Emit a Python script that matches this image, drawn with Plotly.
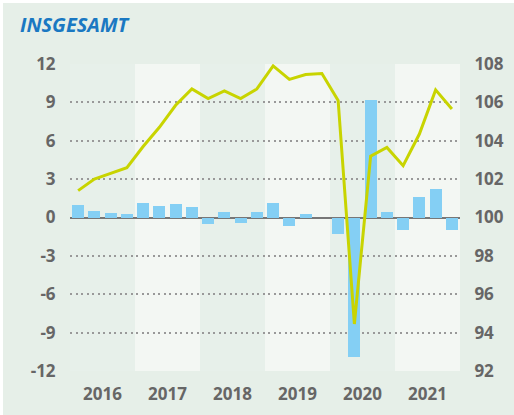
import plotly.graph_objects as go

quarters = [f"{y} Q{q}" for y in range(2016, 2022) for q in range(1, 5)]
years = ["2016", "2017", "2018", "2019", "2020", "2021"]
bar_values = [1.0, 0.5, 0.35, 0.25, 1.1, 0.9, 1.05, 0.8,
              -0.5, 0.4, -0.4, 0.4, 1.1, -0.65, 0.25, 0.0,
              -1.3, -10.9, 9.2, 0.4, -1.0, 1.6, 2.2, -1.0]
index_values = [101.4, 102.0, 102.3, 102.6, 103.7, 104.7, 105.85, 106.7,
                106.2, 106.6, 106.2, 106.7, 107.9, 107.2, 107.45, 107.5,
                106.1, 94.45, 103.2, 103.65, 102.7, 104.35, 106.65, 105.65]
left_ticks = [-12, -9, -6, -3, 0, 3, 6, 9, 12]
left_labels = ["-12", "-9", "-6", "-3", "0", "3", "6", "9", "12"]
right_ticks = [92, 94, 96, 98, 100, 102, 104, 106, 108]

W, H = 514, 415
ML, MR, MT, MB = 70, 54, 64, 44
x = list(range(len(quarters)))

fig = go.Figure()
fig.add_trace(go.Bar(x=x, y=bar_values, marker_color="#84cff4", marker_line_width=0,
                     width=0.74, yaxis="y", hovertext=quarters))
fig.add_trace(go.Scatter(x=x, y=index_values, mode="lines", yaxis="y2",
                         line=dict(color="#c8d400", width=3), hovertext=quarters))

shapes = []
def px_x(p):
    return (p - ML) / (W - ML - MR)
def px_y(p):
    return (H - MB - p) / (H - MT - MB)
shapes.append(dict(type="rect", xref="paper", yref="paper", x0=px_x(3), x1=px_x(W + 5),
                   y0=px_y(H + 5), y1=px_y(3), fillcolor="#e6efe8", line_width=0, layer="below"))
for i, yr in enumerate(years):
    col = "#e7f0ea" if i % 2 == 0 else "#f3f7f3"
    shapes.append(dict(type="rect", xref="x", yref="paper", x0=i * 4 - 0.5, x1=i * 4 + 3.5,
                       y0=0, y1=1, fillcolor=col, line_width=0, layer="below"))

tickfont = dict(family="Open Sans", size=17, color="#666666", weight="bold")
fig.update_layout(
    width=W, height=H, margin=dict(l=ML, r=MR, t=MT, b=MB, autoexpand=False),
    paper_bgcolor="#ffffff", plot_bgcolor="rgba(0,0,0,0)",
    showlegend=False, bargap=0, shapes=shapes,
    xaxis=dict(range=[-0.5, 23.5], tickvals=[1.5 + 4 * i for i in range(6)], ticktext=years,
               showgrid=False, zeroline=False, ticks="outside", ticklen=8,
               tickcolor="rgba(0,0,0,0)", tickfont=tickfont, fixedrange=True),
    yaxis=dict(range=[-12, 12], tickvals=left_ticks, ticktext=left_labels, showgrid=True,
               gridcolor="#999999", gridwidth=1.5, griddash="2px,3.5px", zeroline=True,
               zerolinecolor="#777777", zerolinewidth=2, ticks="outside", ticklen=10,
               tickcolor="rgba(0,0,0,0)", tickfont=tickfont),
    yaxis2=dict(range=[92, 108], tickvals=right_ticks, overlaying="y", side="right",
                showgrid=False, zeroline=False, ticks="outside", ticklen=10,
                tickcolor="rgba(0,0,0,0)", tickfont=tickfont),
    annotations=[dict(text="INSGESAMT", xref="paper", yref="paper", x=px_x(18), y=px_y(25),
                      xanchor="left", yanchor="middle", showarrow=False,
                      font=dict(family="Open Sans", size=20, color="#1a78c2", weight="bold",
                                style="italic"))],
)
fig.write_html("out.html", config={"displayModeBar": False},
               post_script="document.body.style.margin='0';document.body.style.overflow='hidden';")
